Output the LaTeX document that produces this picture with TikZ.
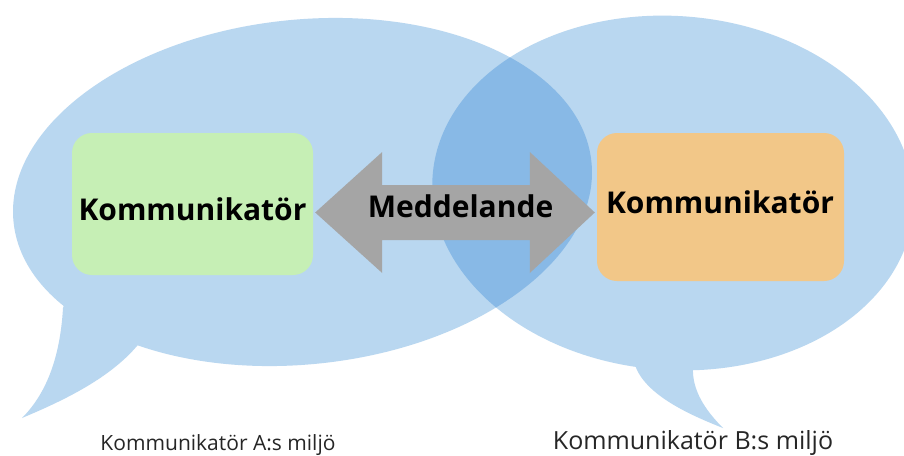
\documentclass[tikz,border=0pt]{standalone}
\usepackage{fontspec}
\setmainfont{Open Sans}
\usetikzlibrary{calc}
\definecolor{bubbleblue}{HTML}{B9D7F0}
\definecolor{overlapblue}{HTML}{88B9E6}
\definecolor{boxgreen}{HTML}{C6EFB5}
\definecolor{boxorange}{HTML}{F2C788}
\definecolor{msggray}{HTML}{A5A5A5}
\tikzset{
  bubble/.style={fill=bubbleblue},
  overlap/.style={fill=overlapblue},
  leftell/.style={shift={(302.5,192)}, rotate=6},
  rightell/.style={shift={(673,193)}, rotate=-4},
  commbox/.style={rounded corners=20pt, inner sep=0pt, draw=none},
  commtext/.style={anchor=base, inner sep=0pt, font=\bfseries\fontsize{30}{36}\selectfont, text=black},
  envtext/.style={anchor=base, inner sep=0pt, text=black!85},
  msgarrow/.style={fill=msggray}
}
\begin{document}
\begin{tikzpicture}[x=1pt,y=-1pt]
\useasboundingbox (0,0) rectangle (904,455);
\clip (0,0) rectangle (904,455);
\fill[white] (0,0) rectangle (904,455);
% left speech bubble
\fill[bubble, leftell] (0,0) ellipse [x radius=290.5pt, y radius=172.3pt];
\fill[bubble] (70,290) -- (63,308) .. controls (60,360) and (45,395) .. (22,418)
  .. controls (60,402) and (108,380) .. (137,346) -- (150,330) -- cycle;
% right speech bubble
\fill[bubble, rightell] (0,0) ellipse [x radius=241pt, y radius=177pt];
\fill[bubble] (630,350) -- (635,365) .. controls (645,395) and (690,415) .. (723,428)
  .. controls (705,410) and (692,390) .. (693,368) -- (700,350) -- cycle;
% overlap
\begin{scope}
  \clip[leftell] (0,0) ellipse [x radius=290.5pt, y radius=172.3pt];
  \fill[overlap, rightell] (0,0) ellipse [x radius=241pt, y radius=177pt];
\end{scope}
% boxes
\node[commbox, fill=boxgreen, minimum width=241pt, minimum height=142pt] (A) at (192.5,204) {};
\node[commbox, fill=boxorange, minimum width=247pt, minimum height=148pt] (B) at (720.5,207) {};
\node[commtext] (At) at (192.5,220) {Kommunikatör};
\node[commtext] (Bt) at (720,213) {Kommunikatör};
% message double arrow
\coordinate (tipL) at ($(A.east)+(2,8.5)$);
\coordinate (tipR) at ($(B.west)+(-2,5.5)$);
\fill[msgarrow] (tipL) -- ($(tipL)+(67,-60.5)$) -- ($(tipL)+(67,-27.5)$)
  -- ($(tipR)+(-65,-27.5)$) -- ($(tipR)+(-65,-60.5)$) -- (tipR)
  -- ($(tipR)+(-65,60.5)$) -- ($(tipR)+(-65,27.5)$)
  -- ($(tipL)+(67,27.5)$) -- ($(tipL)+(67,60.5)$) -- cycle;
\node[commtext] (msg) at (460.5,217) {Meddelande};
% environment labels
\node[envtext, font=\fontsize{21}{25}\selectfont] (la) at (218,450) {Kommunikatör A:s miljö};
\node[envtext, font=\fontsize{25}{30}\selectfont] (lb) at (693,449) {Kommunikatör B:s miljö};
\end{tikzpicture}
\end{document}
